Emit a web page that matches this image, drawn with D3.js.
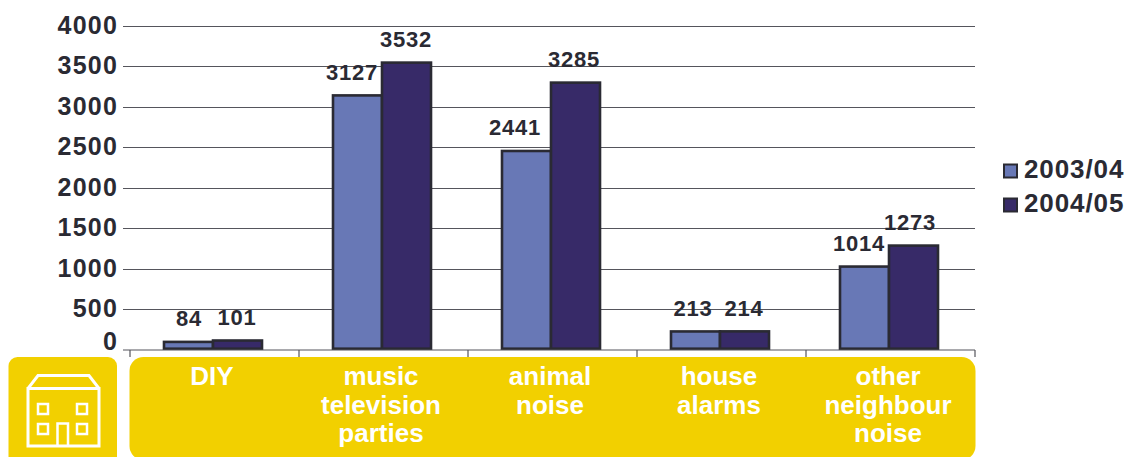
<!DOCTYPE html>
<html><head><meta charset="utf-8">
<script src="https://cdn.jsdelivr.net/npm/d3@7"></script>
<style>html,body{margin:0;padding:0;background:#fff}svg{display:block}text{font-family:"Liberation Sans",Arial,sans-serif;font-weight:700}</style>
</head><body><svg id="c" width="1127" height="457"></svg>
<script>
const categories = ["DIY","music television parties","animal noise","house alarms","other neighbour noise"];
const categoryLines = [["DIY"],["music","television","parties"],["animal","noise"],["house","alarms"],["other","neighbour","noise"]];
const seriesNames = ["2003/04","2004/05"];
const values0304 = [84,3127,2441,213,1014];
const values0405 = [101,3532,3285,214,1273];
const yTicks = [0,500,1000,1500,2000,2500,3000,3500,4000];
const colors = ["#6878b6","#372a68"];
const ink = "#2a2a33", yellow = "#f2d000";
const labelShift0 = [-24,-30,-36,-27,-30];
const labelShift1 = [24,24,23,24,21];

const svg = d3.select("#c");
const y = d3.scaleLinear().domain([0,4000]).range([349.5,25.5]);
const x0 = d3.scaleBand().domain(categories).range([130,975]);
const barW = 49;
const mid = c => x0(c) + x0.bandwidth()/2 - 1.5;

// yellow panels
svg.append("rect").attr("x",8.5).attr("y",357).attr("width",108.5).attr("height",130).attr("rx",9).attr("fill",yellow);
svg.append("rect").attr("x",129.5).attr("y",357).attr("width",846).attr("height",103).attr("rx",14).attr("fill",yellow);

// house icon
const house = svg.append("g").attr("fill","none").attr("stroke","#fff").attr("stroke-width",3);
house.append("path").attr("d","M28 388.5 H99 V446 H28 Z M28 388.5 L38 375.5 H89 L99 388.5");
[[38,404,10,10],[77,404,10,10],[38,424,10,10],[77,424,10,10]].forEach(r=>
  house.append("rect").attr("x",r[0]).attr("y",r[1]).attr("width",r[2]).attr("height",r[3]).attr("stroke-width",2.5));
house.append("path").attr("d","M57.5 446 V423.5 H68 V446").attr("stroke-width",2.5);

// grid + y axis
const yAxis = d3.axisLeft(y).tickValues(yTicks).tickFormat(d3.format("d")).tickSize(0).tickPadding(0);
const yg = svg.append("g").attr("transform","translate(118,0)").call(yAxis);
yg.select(".domain").remove();
yg.selectAll("text").attr("font-size",25).attr("fill",ink).attr("x",0).attr("dy","0.3em")
  .attr("y",d=>d===0?-7.5:0).attr("letter-spacing",1.2)
  .style("font-family",'"Liberation Sans",Arial,sans-serif').style("font-weight",700);
svg.append("g").selectAll("line").data(yTicks.filter(d=>d>0)).join("line")
  .attr("x1",123).attr("x2",975).attr("y1",d=>Math.round(y(d))+.5).attr("y2",d=>Math.round(y(d))+.5)
  .attr("stroke","#55555c").attr("stroke-width",1);

// bars
[values0304,values0405].forEach((vals,s)=>{
  svg.append("g").attr("transform","translate(0,-0.8)").selectAll("rect").data(vals).join("rect")
    .attr("x",(d,i)=>mid(categories[i])-barW+s*barW)
    .attr("y",d=>y(d)).attr("width",barW).attr("height",d=>y(0)-y(d))
    .attr("fill",colors[s]).attr("stroke",ink).attr("stroke-width",2.6);
});

// x axis line + ticks
svg.append("line").attr("x1",123).attr("x2",975).attr("y1",350).attr("y2",350).attr("stroke","#55555c").attr("stroke-width",1.2);
svg.append("g").selectAll("line").data(d3.range(6)).join("line")
  .attr("x1",i=>130+i*x0.bandwidth()).attr("x2",i=>130+i*x0.bandwidth()).attr("y1",350).attr("y2",357)
  .attr("stroke","#55555c").attr("stroke-width",1.2);

// value labels
[values0304,values0405].forEach((vals,s)=>{
  svg.append("g").selectAll("text").data(vals).join("text")
    .attr("x",(d,i)=>mid(categories[i])+(s?labelShift1:labelShift0)[i])
    .attr("y",d=>y(d)-16.5)
    .attr("text-anchor","middle").attr("font-size",22).attr("letter-spacing",0.8).attr("fill",ink).text(d=>d);
});

// category labels
const cat = svg.append("g");
categoryLines.forEach((lines,i)=>{
  const t = cat.append("text").attr("text-anchor","middle").attr("font-size",26).attr("fill","#fff");
  lines.forEach((l,j)=>t.append("tspan").attr("x",mid(categories[i])-1).attr("y",385+j*28.5).text(l));
});

// legend
seriesNames.forEach((n,i)=>{
  const ly = 171+i*34;
  svg.append("rect").attr("x",1004).attr("y",ly-6.5).attr("width",13).attr("height",13)
    .attr("fill",colors[i]).attr("stroke",ink).attr("stroke-width",2);
  svg.append("text").attr("x",1024).attr("y",ly+7).attr("font-size",26).attr("letter-spacing",0.9).attr("fill",ink).text(n);
});
</script></body></html>
